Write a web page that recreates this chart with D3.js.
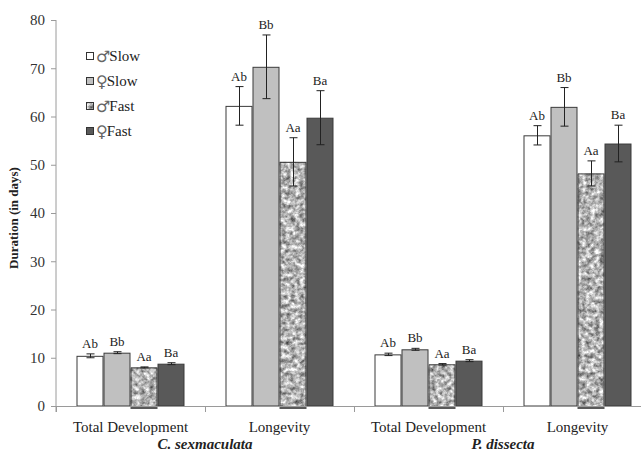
<!DOCTYPE html>
<html>
<head>
<meta charset="utf-8">
<script src="https://cdn.jsdelivr.net/npm/d3@7"></script>
<style>
  html, body { margin: 0; padding: 0; background: #fff; }
  svg { display: block; }
  text { font-family: "Liberation Serif", "Times New Roman", Times, serif; fill: #222; }
</style>
</head>
<body>
<svg id="chart" width="641" height="452"></svg>
<script>
// Durations (days) for each life-stage group, by sex and rearing speed
const groups = ["Total Development", "Longevity", "Total Development", "Longevity"];
const species = ["C. sexmaculata", "P. dissecta"];
const sexSymbols = ["♂", "♀", "♂", "♀"];
const speedNames = ["Slow", "Slow", "Fast", "Fast"];
const letters = ["Ab", "Bb", "Aa", "Ba"];

const maleSlow   = [10.4, 62.2, 10.7, 56.1];
const femaleSlow = [11.05, 70.3, 11.75, 62.0];
const maleFast   = [8.0, 50.6, 8.64, 48.2];
const femaleFast = [8.77, 59.75, 9.4, 54.4];

const maleSlowErr   = [0.4, 4.0, 0.25, 2.0];
const femaleSlowErr = [0.2, 6.6, 0.2, 4.0];
const maleFastErr   = [0.1, 5.0, 0.15, 2.6];
const femaleFastErr = [0.2, 5.6, 0.2, 3.8];

const yTicks = [0, 10, 20, 30, 40, 50, 60, 70, 80];

const seriesValues = [maleSlow, femaleSlow, maleFast, femaleFast];
const seriesErrors = [maleSlowErr, femaleSlowErr, maleFastErr, femaleFastErr];

const svg = d3.select("#chart");
const defs = svg.append("defs");

// Mottled granite fill used for the ♂Fast bars
const granite = defs.append("filter")
  .attr("id", "granite")
  .attr("x", 0).attr("y", 0).attr("width", 1).attr("height", 1)
  .attr("filterUnits", "objectBoundingBox")
  .attr("color-interpolation-filters", "sRGB");
granite.append("feTurbulence")
  .attr("type", "fractalNoise")
  .attr("baseFrequency", 0.22)
  .attr("numOctaves", 3)
  .attr("seed", 11)
  .attr("result", "noise");
granite.append("feColorMatrix")
  .attr("in", "noise")
  .attr("type", "matrix")
  .attr("values", "1.05 0 0 0 0.18  1.05 0 0 0 0.18  1.05 0 0 0 0.18  0 0 0 0 1")
  .attr("result", "grey");
granite.append("feComposite")
  .attr("in", "grey").attr("in2", "SourceGraphic").attr("operator", "in");

const fills = ["#ffffff", "#c0c0c0", "granite", "#595959"];

const x0 = d3.scaleBand().domain(d3.range(groups.length)).range([56, 652]);
const x1 = d3.scaleBand().domain(d3.range(sexSymbols.length))
  .range([20.5, x0.bandwidth() - 20.5]);
const y = d3.scaleLinear().domain([0, 80]).range([406, 20]);

const axisColor = "#9a9a9a";

// Y axis
const yAxis = svg.append("g").attr("transform", "translate(56,0)")
  .call(d3.axisLeft(y).tickValues(yTicks).tickSize(5).tickPadding(6));
yAxis.select(".domain").attr("stroke", axisColor).attr("d", "M0,20V412");
yAxis.selectAll(".tick line").attr("stroke", axisColor);
yAxis.selectAll(".tick text")
  .attr("font-size", 15).style("fill", "#333");

// Y axis title
svg.append("text")
  .attr("transform", "translate(18,218) rotate(-90)")
  .attr("text-anchor", "middle")
  .attr("font-weight", "bold")
  .attr("font-size", 13)
  .text("Duration (in days)");

// Bars
const bars = [];
groups.forEach((g, gi) => {
  sexSymbols.forEach((s, si) => {
    bars.push({ gi, si, v: seriesValues[si][gi], e: seriesErrors[si][gi] });
  });
});

const barG = svg.append("g");
bars.forEach(d => {
  const bx = x0(d.gi) + x1(d.si);
  const bw = x1.bandwidth();
  if (fills[d.si] === "granite") {
    barG.append("rect")
      .attr("x", bx).attr("y", y(d.v)).attr("width", bw).attr("height", y(0) - y(d.v))
      .attr("fill", "#000").attr("filter", "url(#granite)");
    barG.append("rect")
      .attr("x", bx + 0.5).attr("y", y(d.v) + 0.5).attr("width", bw - 1).attr("height", y(0) - y(d.v))
      .attr("fill", "none").attr("stroke", "#3a3a3a").attr("stroke-width", 1);
    // dark base line under the speckled bar
    barG.append("line")
      .attr("x1", bx).attr("x2", bx + bw)
      .attr("y1", y(0) + 2).attr("y2", y(0) + 2)
      .attr("stroke", "#222").attr("stroke-width", 1.5);
  } else {
    barG.append("rect")
      .attr("x", bx + 0.5).attr("y", y(d.v) + 0.5).attr("width", bw - 1).attr("height", y(0) - y(d.v) - 0.5)
      .attr("fill", fills[d.si]).attr("stroke", "#3a3a3a").attr("stroke-width", 1);
  }
});

// X axis
const xAxisG = svg.append("g");
xAxisG.append("line")
  .attr("x1", 56).attr("x2", 641).attr("y1", 406.5).attr("y2", 406.5)
  .attr("stroke", axisColor);
x0.domain().concat([groups.length]).forEach(i => {
  const tx = i < groups.length ? x0(i) : x0.range()[1];
  xAxisG.append("line")
    .attr("x1", Math.round(tx) + 0.5).attr("x2", Math.round(tx) + 0.5)
    .attr("y1", 406).attr("y2", 412)
    .attr("stroke", axisColor);
});

// Error bars
const errG = svg.append("g").attr("stroke", "#222").attr("stroke-width", 1);
bars.forEach(d => {
  const cx = Math.round(x0(d.gi) + x1(d.si) + x1.bandwidth() / 2) + 0.5;
  const top = y(d.v + d.e), bot = y(d.v - d.e);
  errG.append("line").attr("x1", cx).attr("x2", cx).attr("y1", top).attr("y2", bot);
  errG.append("line").attr("x1", cx - 4).attr("x2", cx + 4).attr("y1", top).attr("y2", top);
  errG.append("line").attr("x1", cx - 4).attr("x2", cx + 4).attr("y1", bot).attr("y2", bot);
});

// Significance letters
svg.append("g").selectAll("text").data(bars).join("text")
  .attr("x", d => x0(d.gi) + x1(d.si) + x1.bandwidth() / 2)
  .attr("y", d => y(d.v + d.e) - 6)
  .attr("text-anchor", "middle")
  .attr("font-size", 13)
  .text(d => letters[d.si]);

// Category labels
svg.append("g").selectAll("text").data(groups).join("text")
  .attr("x", (d, i) => x0(i) + x0.bandwidth() / 2)
  .attr("y", 432)
  .attr("text-anchor", "middle")
  .attr("font-size", 15)
  .text(d => d);

// Species labels, centred under each pair of groups
svg.append("g").selectAll("text").data(species).join("text")
  .attr("x", (d, i) => x0(i * 2 + 1))
  .attr("y", 449)
  .attr("text-anchor", "middle")
  .attr("font-size", 15)
  .attr("font-weight", "bold")
  .attr("font-style", "italic")
  .text(d => d);

// Legend
const legend = svg.append("g").attr("transform", "translate(86,56)");
sexSymbols.forEach((s, i) => {
  const row = legend.append("g").attr("transform", `translate(0,${i * 25})`);
  if (fills[i] === "granite") {
    row.append("rect").attr("x", 0).attr("y", -4).attr("width", 8).attr("height", 8)
      .attr("fill", "#000").attr("filter", "url(#granite)");
    row.append("rect").attr("x", 0.5).attr("y", -3.5).attr("width", 7).attr("height", 7)
      .attr("fill", "none").attr("stroke", "#333");
  } else {
    row.append("rect").attr("x", 0.5).attr("y", -3.5).attr("width", 7).attr("height", 7)
      .attr("fill", fills[i]).attr("stroke", "#333");
  }
  const t = row.append("text").attr("x", 10).attr("y", 5).attr("font-size", 15);
  t.append("tspan")
    .style("font-family", "'DejaVu Sans', sans-serif")
    .style("font-size", "16px")
    .style("fill", "#666")
    .attr("dy", 1)
    .text(s);
  t.append("tspan").attr("dx", -1).attr("dy", -1).text(speedNames[i]);
});
</script>
</body>
</html>
